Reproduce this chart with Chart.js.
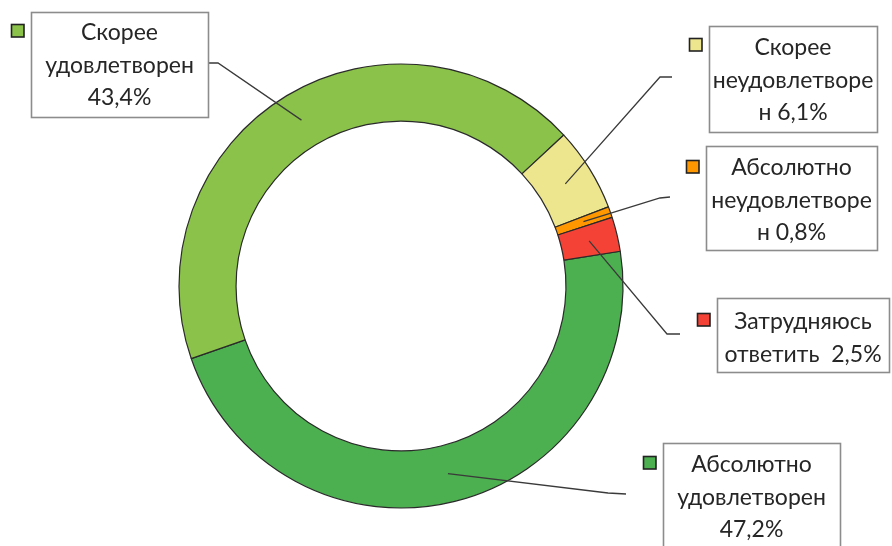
<!DOCTYPE html>
<html>
<head>
<meta charset="utf-8">
<script src="https://cdn.jsdelivr.net/npm/chart.js@4"></script>
<style>
  html, body { margin: 0; padding: 0; background: #ffffff; }
  #wrap { width: 892px; height: 546px; position: relative; }
</style>
</head>
<body>
<div id="wrap"><canvas id="c" width="892" height="546"></canvas></div>
<script>
// ---- data ----
const categories = ['Абсолютно удовлетворен', 'Скорее удовлетворен', 'Скорее неудовлетворен', 'Абсолютно неудовлетворен', 'Затрудняюсь ответить'];
const values = [47.2, 43.4, 6.1, 0.8, 2.5];
// label text as wrapped in the reference; {p} is replaced by the value
const labelLines = [
  ['Абсолютно', 'удовлетворен', '{p}'],
  ['Скорее', 'удовлетворен', '{p}'],
  ['Скорее', 'неудовлетворе', 'н {p}'],
  ['Абсолютно', 'неудовлетворе', 'н {p}'],
  ['Затрудняюсь', 'ответить  {p}']
];
const colors = ['#4caf50', '#8bc34a', '#eee68f', '#ff9800', '#f44336'];

// ---- layout of the callout boxes ----
const boxes = [
  { x: 663, y: 443, w: 177, h: 106, sq: [643, 456], lead: [[626, 494], [608, 493]], ty: 22 },
  { x: 31,  y: 12,  w: 177, h: 105, sq: [11, 24],  lead: [[208, 63], [218, 63]],  ty: 21 },
  { x: 709, y: 26,  w: 168, h: 106, sq: [689, 38], lead: [[672, 77], [660, 77]],  ty: 22 },
  { x: 706, y: 146, w: 171, h: 104, sq: [686, 160], lead: [[670, 197], [660, 198]], ty: 22 },
  { x: 717, y: 298, w: 172, h: 74,  sq: [697, 313], lead: [[680, 334], [667, 334]], ty: 24 }
];

function fmt(v) { return v.toFixed(1).replace('.', ',') + '%'; }

const calloutPlugin = {
  id: 'callouts',
  afterDatasetsDraw(chart) {
    const ctx = chart.ctx;
    const meta = chart.getDatasetMeta(0);
    ctx.save();
    // leader lines
    meta.data.forEach((arc, i) => {
      const b = boxes[i];
      const p = arc.getCenterPoint();
      ctx.beginPath();
      ctx.moveTo(b.lead[0][0], b.lead[0][1]);
      ctx.lineTo(b.lead[1][0], b.lead[1][1]);
      ctx.lineTo(p.x, p.y);
      ctx.strokeStyle = '#3a3a3a';
      ctx.lineWidth = 1.3;
      ctx.stroke();
    });
    // boxes
    meta.data.forEach((arc, i) => {
      const b = boxes[i];
      ctx.fillStyle = '#ffffff';
      ctx.fillRect(b.x, b.y, b.w, b.h);
      ctx.strokeStyle = '#8c8c8c';
      ctx.lineWidth = 1.6;
      ctx.strokeRect(b.x + 0.5, b.y + 0.5, b.w, b.h);
      // legend square
      ctx.fillStyle = colors[i];
      ctx.fillRect(b.sq[0], b.sq[1], 13, 13);
      ctx.strokeStyle = '#222222';
      ctx.lineWidth = 1.6;
      ctx.strokeRect(b.sq[0] + 0.5, b.sq[1] + 0.5, 12.5, 12.5);
      // text
      ctx.fillStyle = '#262626';
      ctx.font = '23px Lato, "Open Sans", sans-serif';
      ctx.textAlign = 'center';
      ctx.textBaseline = 'middle';
      const lines = labelLines[i].map(s => s.replace('{p}', fmt(values[i])));
      lines.forEach((s, k) => {
        ctx.fillText(s, b.x + b.w / 2, b.y + b.ty + k * 32.5);
      });
    });
    ctx.restore();
  }
};

new Chart(document.getElementById('c'), {
  type: 'doughnut',
  data: {
    labels: categories,
    datasets: [{
      data: values,
      backgroundColor: colors,
      borderColor: '#2a2a2a',
      borderWidth: 1.2
    }]
  },
  options: {
    responsive: false,
    animation: false,
    rotation: 81,
    radius: 222,
    cutout: '74.3%',
    layout: { padding: { left: 0, right: 90, top: 26, bottom: 0 } },
    plugins: { legend: { display: false }, tooltip: { enabled: false } }
  },
  plugins: [calloutPlugin]
});
</script>
</body>
</html>
